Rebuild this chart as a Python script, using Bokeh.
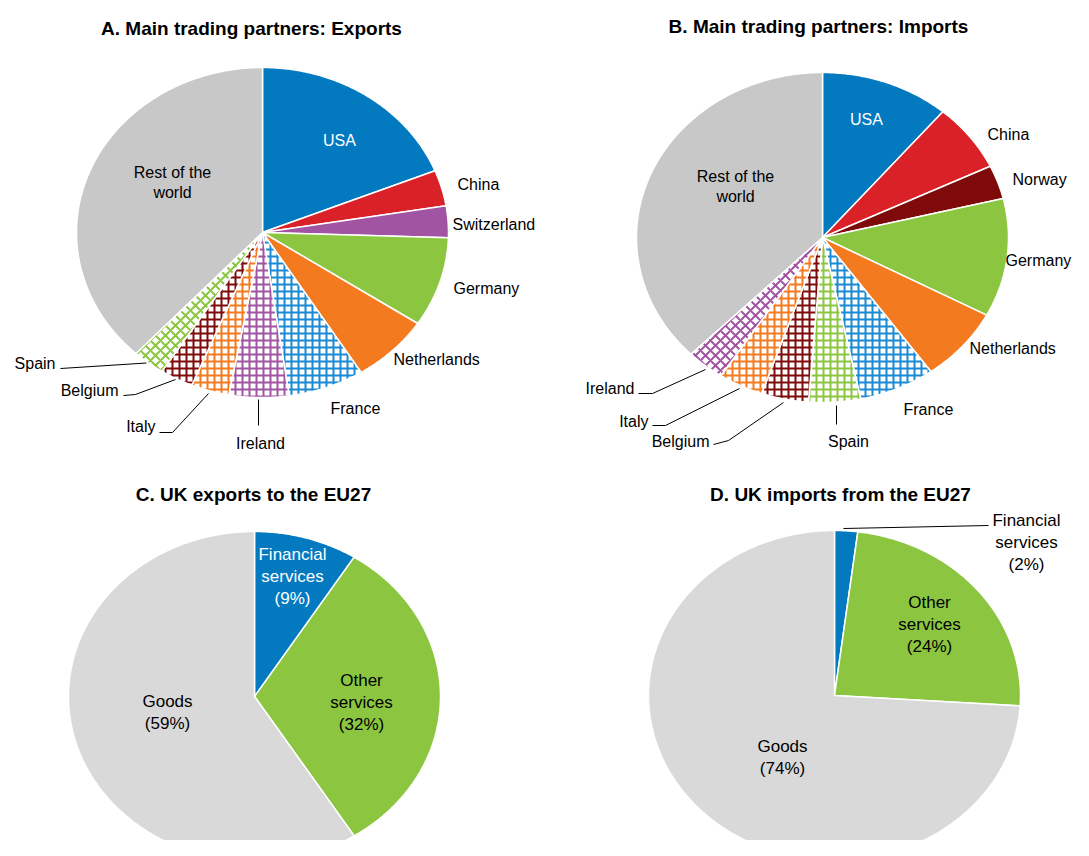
import numpy as np
from bokeh.plotting import figure
from bokeh.models import Range1d, ColumnDataSource
from bokeh.embed import file_html
from bokeh.resources import INLINE
from bokeh.core.properties import value

# ---------------- data ----------------
exp_partners = ["USA", "China", "Switzerland", "Germany", "Netherlands", "France",
                "Ireland", "Italy", "Belgium", "Spain", "Rest of the world"]
exp_shares = [18.9, 3.5, 3.1, 8.8, 6.8, 6.6, 5.2, 3.3, 2.9, 2.8, 38.1]

imp_partners = ["USA", "China", "Norway", "Germany", "Netherlands", "France",
                "Spain", "Belgium", "Italy", "Ireland", "Rest of the world"]
imp_shares = [11.2, 6.7, 3.3, 11.6, 7.3, 6.6, 4.5, 4.1, 3.9, 3.3, 37.5]

eu_components = ["Financial services", "Other services", "Goods"]
eu_exports = [9, 32, 59]
eu_imports = [2, 24, 74]

# ---------------- styles ----------------
BLUE = "#0379C0"
RED = "#DA2128"
PURPLE = "#A154A1"
GREEN = "#8CC641"
ORANGE = "#F47A20"
DARKRED = "#7E0A0A"
GREY = "#C8C8C8"
LGREY = "#D9D9D9"
HBLUE = "#1A8AD4"

solid = {"USA": BLUE, "China": RED, "Switzerland": PURPLE, "Germany": GREEN,
         "Netherlands": ORANGE, "Norway": DARKRED, "Rest of the world": GREY}
hatched = {"France": HBLUE, "Ireland": PURPLE, "Italy": ORANGE,
           "Belgium": DARKRED, "Spain": GREEN}

FONT = value("Liberation Sans")

W, H = 1073, 840
p = figure(width=W, height=H, x_range=Range1d(0, W), y_range=Range1d(H, 0),
           output_backend="svg", toolbar_location=None, min_border=0,
           x_axis_location=None, y_axis_location=None)
p.grid.visible = False
p.outline_line_color = None
p.background_fill_color = "white"
p.border_fill_color = "white"

RX, RY = 186, 165


def pie(cx, cy, names, values, fills=None, diag=()):
    total = float(sum(values))
    start = 0.0
    xs, ys, fc, hp, hc, hs = [], [], [], [], [], []
    for name, v in zip(names, values):
        a0 = start / total * 2 * np.pi
        a1 = (start + v) / total * 2 * np.pi
        n = max(int(np.degrees(a1 - a0) * 2), 3) + 1
        t = np.linspace(a0, a1, n)
        xs.append([cx] + list(cx + RX * np.sin(t)))
        ys.append([cy] + list(cy - RY * np.cos(t)))
        if fills is not None:
            fc.append(fills[name]); hp.append(" "); hc.append("white"); hs.append(7)
        elif name in hatched:
            fc.append("white")
            if name in diag:
                hp.append("x"); hs.append(10)
            else:
                hp.append("+"); hs.append(7)
            hc.append(hatched[name])
        else:
            fc.append(solid[name]); hp.append(" "); hc.append("white"); hs.append(7)
        start += v
    src = ColumnDataSource(dict(xs=xs, ys=ys, fill=fc, hatch=hp, hcolor=hc, hscale=hs))
    p.patches("xs", "ys", source=src, fill_color="fill", hatch_pattern="hatch",
              hatch_color="hcolor", hatch_scale="hscale", hatch_weight=2,
              line_color="white", line_width=1.5)


def label(x, y, text, align="left", size="16px", color="#000000", lh=1.22, bold=False):
    p.text([x], [y], text=[text], text_font=FONT, text_font_size=size,
           text_align=align, text_baseline="middle", text_color=color,
           text_line_height=lh, text_font_style="bold" if bold else "normal")


def leader(xs, ys):
    p.line(xs, ys, line_color="black", line_width=1)


# ---------------- titles ----------------
label(251, 28, "A. Main trading partners: Exports", "center", "19px", bold=True)
label(818, 26, "B. Main trading partners: Imports", "center", "19px", bold=True)
label(253, 494, "C. UK exports to the EU27", "center", "19px", bold=True)
label(840, 494, "D. UK imports from the EU27", "center", "19px", bold=True)

# ---------------- A ----------------
pie(262, 232, exp_partners, exp_shares, diag=("Spain",))
label(339, 140, "USA", "center", color="white")
label(172, 182, "Rest of the\nworld", "center")
label(457, 184, "China")
label(452, 224, "Switzerland")
label(453, 288, "Germany")
label(393, 359, "Netherlands")
label(330, 408, "France")
label(260, 443, "Ireland", "center")
label(155, 426, "Italy", "right")
label(118, 390, "Belgium", "right")
label(55, 363, "Spain", "right")
leader([60, 146], [368, 362.5])
leader([123, 135, 175], [395, 394, 379])
leader([159, 172, 208], [432, 432, 393])
leader([258, 258], [399, 425])

# ---------------- B ----------------
pie(822, 237, imp_partners, imp_shares, diag=("Ireland",))
label(866, 119, "USA", "center", color="white")
label(735, 186, "Rest of the\nworld", "center")
label(987, 134, "China")
label(1012, 179, "Norway")
label(1005, 260, "Germany")
label(969, 348, "Netherlands")
label(903, 409, "France")
label(848, 441, "Spain", "center")
label(709, 441, "Belgium", "right")
label(648, 421, "Italy", "right")
label(634, 388, "Ireland", "right")
leader([638, 652, 705], [393, 393, 369])
leader([652, 665, 739], [425, 425, 388])
leader([713, 728, 783], [444, 440, 402])
leader([836, 836], [405, 424])

# ---------------- C ----------------
eu_fill = {"Financial services": BLUE, "Other services": GREEN, "Goods": LGREY}
pie(254, 696, eu_components, eu_exports, fills=eu_fill)
label(292, 576, "Financial\nservices\n(9%)", "center", "17px", color="white", lh=1.15)
label(361, 702, "Other\nservices\n(32%)", "center", "17px", lh=1.15)
label(167, 712, "Goods\n(59%)", "center", "17px", lh=1.15)

# ---------------- D ----------------
pie(834, 695, eu_components, eu_imports, fills=eu_fill)
label(1026, 542, "Financial\nservices\n(2%)", "center", "17px", lh=1.15)
label(929, 624, "Other\nservices\n(24%)", "center", "17px", lh=1.15)
label(782, 757, "Goods\n(74%)", "center", "17px", lh=1.15)
leader([843, 988], [528, 525])

open("out.html", "w").write(file_html(p, INLINE))
